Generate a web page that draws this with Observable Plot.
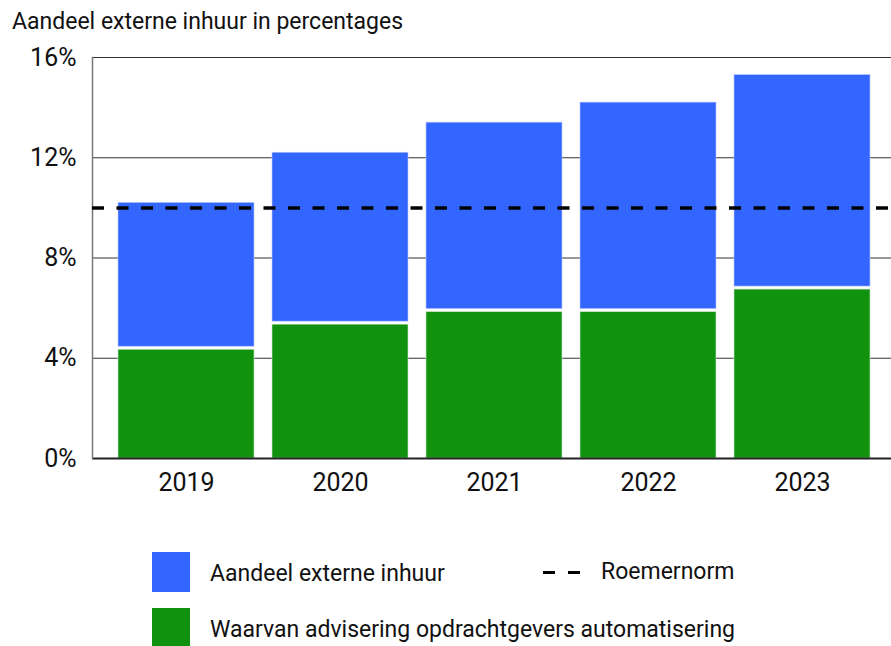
<!DOCTYPE html>
<html><head><meta charset="utf-8">
<script src="https://cdn.jsdelivr.net/npm/d3@7"></script>
<script src="https://cdn.jsdelivr.net/npm/@observablehq/plot@0.6"></script>
<style>
body{margin:0;background:#fff;font-family:Roboto,sans-serif;color:#111;}
#wrap{position:relative;width:891px;height:646px;overflow:hidden;}
#title{position:absolute;left:12px;top:8px;font-size:23px;line-height:28px;white-space:nowrap;}
#chart{position:absolute;left:0;top:40px;}
.sw{position:absolute;width:38px;height:40px;}
.lt{position:absolute;font-size:23px;line-height:28px;white-space:nowrap;}
.dash{position:absolute;height:3px;width:12px;background:#000;}
</style></head><body>
<div id="wrap">
<div id="title">Aandeel externe inhuur in percentages</div>
<div id="chart"></div>
<div id="legend"></div>
</div>
<script>
const years = ["2019", "2020", "2021", "2022", "2023"];
const totaal = [10.2, 12.2, 13.4, 14.2, 15.3];
const advisering = [4.4, 5.4, 5.9, 5.9, 6.8];
const roemernorm = [10];
const yTicks = [0, 4, 8, 12, 16];
const series = ["Aandeel externe inhuur", "Waarvan advisering opdrachtgevers automatisering"];
const colors = ["#3366ff", "#11920f"];

const rows = years.map((y, i) => ({year: y, totaal: totaal[i], advisering: advisering[i]}));

const chart = Plot.plot({
  width: 891,
  height: 470,
  marginLeft: 92,
  marginRight: 0,
  marginTop: 17,
  marginBottom: 52,
  style: {fontFamily: "Roboto, sans-serif", color: "#111", background: "transparent"},
  x: {type: "band", domain: years, range: [92, 896], paddingInner: 0.12, paddingOuter: 0.158},
  y: {domain: [0, 16]},
  marks: [
    Plot.ruleY(yTicks.filter(d => d > 0), {stroke: "#333", strokeWidth: 1.2}),
    Plot.barY(rows, {x: "year", y1: 0, y2: "advisering", fill: colors[1], insetTop: 1.5, stroke: "#cfe8cf", strokeWidth: 0.6}),
    Plot.barY(rows, {x: "year", y1: "advisering", y2: "totaal", fill: colors[0], insetBottom: 1.5, stroke: "#b8c8ff", strokeWidth: 0.6}),
    Plot.ruleY([0], {stroke: "#222", strokeWidth: 2}),
    Plot.frame({anchor: "left", stroke: "#777", strokeWidth: 1.5}),
    Plot.ruleY(roemernorm, {stroke: "#000", strokeWidth: 3.5, strokeDasharray: "12,12.5"}),
    Plot.axisY({ticks: yTicks, tickFormat: d => d + "%", tickSize: 0, tickPadding: 16, fontSize: 25, label: null}),
    Plot.axisX({tickSize: 0, tickPadding: 15, fontSize: 25, label: null})
  ]
});
document.getElementById("chart").appendChild(chart);

const legend = document.getElementById("legend");
legend.innerHTML = `
  <div class="sw" style="left:152px;top:552px;background:${colors[0]}"></div>
  <div class="lt" style="left:210px;top:560px">${series[0]}</div>
  <div class="dash" style="left:543px;top:571px"></div>
  <div class="dash" style="left:568px;top:571px"></div>
  <div class="lt" style="left:601px;top:558px">Roemernorm</div>
  <div class="sw" style="left:152px;top:608px;background:${colors[1]}"></div>
  <div class="lt" style="left:210px;top:616px">${series[1]}</div>
`;
</script>
</body></html>
